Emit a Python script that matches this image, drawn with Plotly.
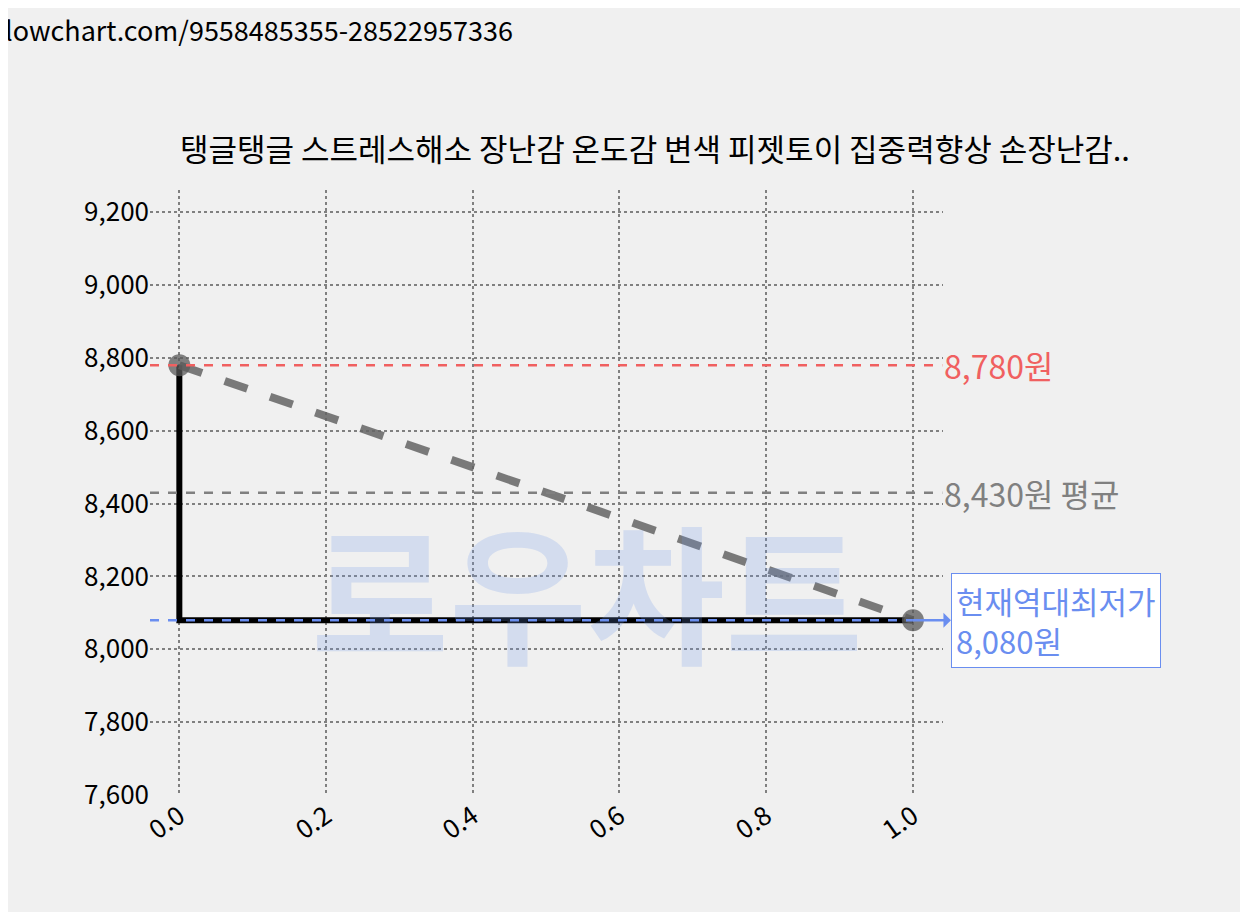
import plotly.graph_objects as go

xs = [0.0, 1.0]
prices = [8780, 8080]
max_price = 8780
avg_price = 8430
min_price = 8080
yticks = [7600, 7800, 8000, 8200, 8400, 8600, 8800, 9000, 9200]
xticks = [0.0, 0.2, 0.4, 0.6, 0.8, 1.0]
title = "탱글탱글 스트레스해소 장난감 온도감 변색 피젯토이 집중력향상 손장난감.."
url = "lowchart.com/9558485355-28522957336"

F = "Noto Sans CJK KR"
fig = go.Figure()
fig.add_annotation(xref="paper", yref="paper", x=0.2, y=0.16, text="<b>로우차트</b>", showarrow=False,
                   font=dict(size=150, color="rgba(110,150,230,0.22)", family=F))
fig.add_trace(go.Scatter(x=[xs[0], xs[0], xs[1]], y=[prices[0], prices[1], prices[1]],
                         mode="lines", line=dict(color="black", width=6)))
fig.add_trace(go.Scatter(x=xs, y=prices, mode="lines+markers",
                         line=dict(color="rgba(100,100,100,0.85)", width=8, dash="dash"),
                         marker=dict(size=22, color="rgba(90,90,90,0.75)")))
for v, c, x0, x1 in [(max_price, "#f06060", -0.04, 1.04), (avg_price, "gray", -0.04, 1.04),
                     (min_price, "#6a8ef0", -0.04, 1.0)]:
    fig.add_shape(type="line", x0=x0, x1=x1, y0=v, y1=v, line=dict(color=c, width=2.5, dash="dash"))

fig.add_annotation(x=1.04, y=max_price, text=f"{max_price:,}원", showarrow=False, xanchor="left",
                   font=dict(size=32, color="#f06060", family=F))
fig.add_annotation(x=1.04, y=avg_price, text=f"{avg_price:,}원 평균", showarrow=False, xanchor="left",
                   font=dict(size=32, color="gray", family=F))
fig.add_annotation(x=1.0, y=min_price, ax=38, ay=0, text=f"현재역대최저가<br>{min_price:,}원",
                   showarrow=True, arrowhead=2, arrowside="start", arrowcolor="#6a8ef0", arrowwidth=2.5,
                   xanchor="left", align="left", bgcolor="white", bordercolor="#6a8ef0", borderwidth=1,
                   borderpad=4, font=dict(size=31, color="#6a8ef0", family=F))
fig.add_annotation(xref="paper", yref="paper", x=1.238, y=1.03, text=title, showarrow=False,
                   xanchor="right", yanchor="bottom", font=dict(size=31, color="black", family=F))
fig.add_annotation(xref="paper", yref="paper", x=-0.186, y=1.3, text=url, showarrow=False,
                   xanchor="left", yanchor="top", font=dict(size=27, color="black", family=F))

fig.update_layout(width=1248, height=912, paper_bgcolor="#f0f0f0", plot_bgcolor="#f0f0f0",
                  showlegend=False, margin=dict(l=142, r=313, t=182, b=125),
                  font=dict(family=F, size=26, color="black"))
fig.update_xaxes(range=[-0.04, 1.041], tickvals=xticks, ticktext=[f"{v:.1f}" for v in xticks],
                 tickangle=-35, showgrid=True, gridcolor="gray", griddash="dot", gridwidth=2,
                 zeroline=False, showline=False)
fig.update_yaxes(range=[7600, 9261], tickvals=yticks, ticktext=[f"{v:,}" for v in yticks],
                 showgrid=True, gridcolor="gray", griddash="dot", gridwidth=2, zeroline=False)
fig.write_html("out.html")
